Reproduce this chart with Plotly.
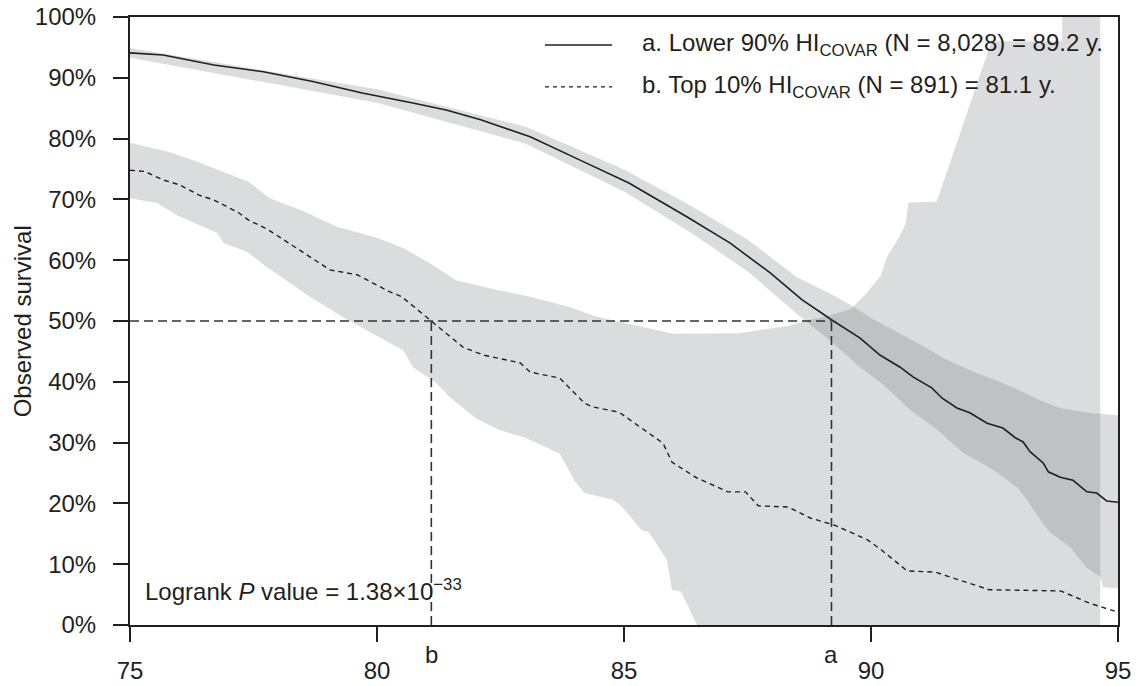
import plotly.graph_objects as go

# ---------------- data ----------------
age_a = [75, 75.67, 76.7, 77.7, 78.7, 79.7, 80.7, 81.4, 82.1, 82.6, 83.1, 84.1, 85.1, 86.28, 87.15,
         87.96, 88.6, 89.2, 89.78, 90.18, 90.59, 90.85, 91.23, 91.44, 91.74, 92.0, 92.35, 92.67,
         92.92, 93.08, 93.22, 93.49, 93.59, 93.83, 94.09, 94.37, 94.57, 94.77, 95]
surv_a = [94.1, 93.75, 92.1, 91.0, 89.4, 87.5, 85.9, 84.7, 83.1, 81.7, 80.3, 76.5, 72.7, 67.1, 62.8,
          57.9, 53.5, 50.2, 47.2, 44.4, 42.4, 40.8, 39.0, 37.3, 35.7, 34.9, 33.2, 32.4,
          30.8, 30.1, 28.5, 26.6, 25.2, 24.3, 23.8, 21.9, 21.7, 20.4, 20.2]

ci_a_up_x = [75, 80, 83, 85, 86.3, 87.5, 88.5, 89.2, 89.64, 90.0, 90.45, 91.13, 91.46, 92.14, 92.6,
             93.0, 93.49, 93.83, 94.37, 95]
ci_a_up_y = [94.9, 88.1, 82.0, 74.9, 69.2, 63.4, 57.2, 54.4, 52.4, 50.5, 48.5, 45.5, 43.9, 41.4, 40.0,
             38.6, 36.7, 35.7, 34.9, 34.5]
ci_a_lo_x = [75, 80, 83, 85, 86.3, 87.5, 88.5, 89.2, 89.78, 90.25, 90.79, 91.34, 91.87, 92.48, 92.95,
             93.16, 93.46, 93.62, 94.03, 94.37, 94.64, 94.7, 95]
ci_a_lo_y = [93.3, 85.9, 79.2, 71.3, 64.8, 58.2, 51.2, 46.6, 42.4, 39.5, 35.4, 32.1, 28.3, 25.5, 22.7,
             20.6, 16.9, 15.3, 12.8, 9.4, 7.9, 6.2, 6.0]

age_b = [75, 75.3, 75.67, 76.0, 76.4, 76.7, 77.2, 77.4, 77.8, 78.4, 79.05, 79.6, 80.26, 80.5, 81.07,
         81.74, 82.15, 82.9, 83.1, 83.7, 84.2, 84.35, 84.9, 85.36, 85.79, 85.97, 86.45, 87.1, 87.46,
         87.72, 88.33, 88.77, 89.27, 89.93, 90.22, 90.73, 91.3, 92.39, 93.84, 94.42, 95]
surv_b = [74.8, 74.6, 73.2, 72.4, 70.7, 69.9, 67.8, 66.6, 65.0, 61.8, 58.4, 57.6, 54.8, 54.0, 50.2,
          45.7, 44.4, 43.1, 41.6, 40.6, 36.5, 35.9, 35.0, 32.4, 29.9, 26.8, 24.3, 21.9, 21.9,
          19.6, 19.4, 17.6, 16.4, 14.0, 12.3, 8.9, 8.7, 5.8, 5.6, 3.6, 2.1]

ci_b_up_x = [75, 75.8, 76.36, 76.8, 77.4, 77.83, 78.44, 79.19, 80, 80.53, 81.07, 81.6, 82.43, 83.1,
             83.9, 84.45, 85.1, 86.0, 87.32, 87.75, 88.34, 88.77, 89.2, 89.6, 89.9, 90.2, 90.32,
             90.55, 90.7, 90.76, 91.33, 92.44, 93.87, 93.87, 94.64]
ci_b_up_y = [79.3, 77.8, 76.2, 74.8, 72.9, 70.2, 68.3, 65.5, 63.7, 62.0, 59.5, 56.7, 55.1, 54.0,
             52.3, 50.7, 49.5, 47.9, 48.0, 48.5, 49.2, 50.2, 51.0, 52.0, 54.5, 57.5, 60.5,
             63.5, 66.0, 69.5, 69.6, 96.0, 96.0, 100, 100]
ci_b_lo_x = [75, 75.55, 75.95, 76.76, 76.9, 77.37, 77.77, 78.24, 78.64, 79.4, 79.9, 80.53, 80.73,
             81.2, 81.47, 82.0, 82.5, 83.0, 83.7, 83.99, 84.2, 84.78, 84.93, 85.36, 85.5, 85.87,
             85.97, 86.15, 86.48, 94.64]
ci_b_lo_y = [70.2, 69.4, 67.4, 64.5, 62.8, 61.4, 58.9, 56.2, 54.0, 50.2, 48.0, 45.2, 42.4,
             39.8, 37.5, 34.0, 32.0, 30.8, 28.2, 23.8, 21.7, 20.6, 19.7, 15.6, 15.3, 10.7,
             5.8, 5.5, 0, 0]

medians = [89.2, 81.1]          # a, b
median_labels = ["a", "b"]
x_ticks = [75, 80, 85, 90, 95]
y_ticks = [0, 10, 20, 30, 40, 50, 60, 70, 80, 90, 100]
legend_texts = ["a. Lower 90% HI<sub>COVAR</sub> (N = 8,028) = 89.2 y.",
                "b. Top 10% HI<sub>COVAR</sub> (N = 891) = 81.1 y."]
logrank_text = "Logrank <i>P</i> value = 1.38×10<sup>−33</sup>"

# ---------------- styling ----------------
FONT = "Liberation Sans, Arial, Helvetica, sans-serif"
INK = "#231f20"
BAND = "rgba(100,102,108,0.23)"
FS = 24

fig = go.Figure()

# confidence bands (same translucent grey -> darker where they overlap)
for ux, uy, lx, ly in [(ci_b_up_x, ci_b_up_y, ci_b_lo_x, ci_b_lo_y),
                       (ci_a_up_x, ci_a_up_y, ci_a_lo_x, ci_a_lo_y)]:
    fig.add_trace(go.Scatter(x=ux + lx[::-1], y=uy + ly[::-1], fill="toself",
                             fillcolor=BAND, line=dict(width=0), mode="lines",
                             hoverinfo="skip", showlegend=False))

# median reference lines
fig.add_trace(go.Scatter(x=[x_ticks[0], medians[0]], y=[50, 50], mode="lines",
                         line=dict(color="#333333", width=1.6, dash="9px,5px"),
                         showlegend=False, hoverinfo="skip"))
for m in medians:
    fig.add_trace(go.Scatter(x=[m, m], y=[0, 50], mode="lines",
                             line=dict(color="#333333", width=1.6, dash="9px,5px"),
                             showlegend=False, hoverinfo="skip"))

# survival curves
fig.add_trace(go.Scatter(x=age_a, y=surv_a, mode="lines",
                         line=dict(color=INK, width=1.6), showlegend=False))
fig.add_trace(go.Scatter(x=age_b, y=surv_b, mode="lines",
                         line=dict(color=INK, width=1.4, dash="5px,4px"), showlegend=False))

# median letters under the axis
for m, lab in zip(medians, median_labels):
    fig.add_annotation(x=m, xref="x", y=-0.048, yref="paper", text=lab, showarrow=False,
                       xanchor="center", yanchor="middle", font=dict(size=FS, color=INK, family=FONT))

# manual legend
leg_y = [0.954, 0.885]
leg_dash = ["solid", "4px,4px"]
for yy, dd in zip(leg_y, leg_dash):
    fig.add_shape(type="line", xref="paper", yref="paper", x0=0.42, x1=0.488, y0=yy, y1=yy,
                  line=dict(color=INK, width=1.4, dash=dd))
for yy, txt in zip(leg_y, legend_texts):
    fig.add_annotation(x=0.516, xref="paper", y=yy, yref="paper", text=txt, showarrow=False,
                       xanchor="left", yanchor="middle", font=dict(size=FS, color=INK, family=FONT))

# logrank text
fig.add_annotation(x=0.013, xref="paper", y=0.058, yref="paper", text=logrank_text, showarrow=False,
                   xanchor="left", yanchor="middle", font=dict(size=FS, color=INK, family=FONT))

# y-axis title
fig.add_annotation(x=-0.109, xref="paper", y=0.5, yref="paper", text="Observed survival",
                   textangle=-90, showarrow=False, xanchor="center", yanchor="middle",
                   font=dict(size=FS, color=INK, family=FONT))

# page body has an 8px default margin -> compensate so the plot lands where the reference has it
fig.update_layout(
    width=1133, height=678,
    margin=dict(l=122, r=23, t=9, b=61),
    plot_bgcolor="white", paper_bgcolor="white",
    font=dict(family=FONT, size=FS, color=INK),
    showlegend=False,
)
fig.update_xaxes(range=[75, 95], tickvals=x_ticks, ticktext=[str(v) for v in x_ticks],
                 showgrid=False, zeroline=False, showline=True, linecolor=INK, linewidth=2,
                 mirror=True, ticks="outside", ticklen=15, tickwidth=1.5, tickcolor=INK,
                 automargin=False, ticklabeloverflow="allow",
                 ticklabelstandoff=8, tickfont=dict(size=FS, color=INK, family=FONT))
fig.update_yaxes(range=[0, 100], tickvals=y_ticks, ticktext=[f"{v}%" for v in y_ticks],
                 showgrid=False, zeroline=False, showline=True, linecolor=INK, linewidth=2,
                 mirror=True, ticks="outside", ticklen=15, tickwidth=1.5, tickcolor=INK,
                 automargin=False, ticklabeloverflow="allow",
                 ticklabelstandoff=12, tickfont=dict(size=FS, color=INK, family=FONT))

fig.write_html("out.html")
